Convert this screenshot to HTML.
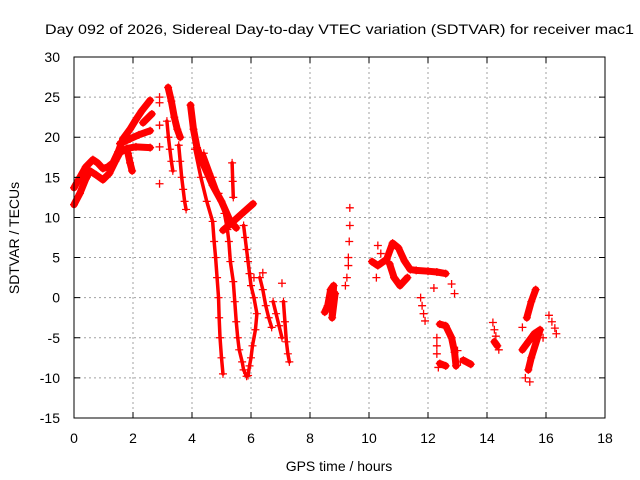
<!DOCTYPE html>
<html><head><meta charset="utf-8">
<style>
body{margin:0;background:#fff;}
svg{display:block;font-family:"Liberation Sans",sans-serif;}
</style></head>
<body>
<svg id="chart" width="640" height="480" viewBox="0 0 640 480">
<rect width="640" height="480" fill="#fff"/>
<g id="grid"></g>
<g id="marks"></g>
<rect x="74" y="57" width="531" height="361" fill="none" stroke="#000" stroke-width="1"/>
<g id="ticks"></g>
<text x="45" y="34" font-size="14" textLength="589" lengthAdjust="spacingAndGlyphs">Day 092 of 2026, Sidereal Day-to-day VTEC variation (SDTVAR) for receiver mac1</text>
<text x="339" y="471" font-size="14" text-anchor="middle">GPS time / hours</text>
<text x="0" y="0" font-size="14" text-anchor="middle" transform="translate(19,238) rotate(-90)">SDTVAR / TECUs</text>
</svg>
<script>
const xTicks=[0,2,4,6,8,10,12,14,16,18];
const yTicks=[-15,-10,-5,0,5,10,15,20,25,30];
const denseTracks=[
[[0,13.7],[0.2,15],[0.4,16.3],[0.64,17.2],[0.8,16.8],[0.98,16.1],[1.15,16.3],[1.32,16.8],[1.5,18.2],[1.66,19.8],[1.9,21],[2.1,22.2],[2.3,23.3],[2.58,24.6]],
[[0,11.6],[0.2,13],[0.4,14.8],[0.54,15.8],[0.75,15.3],[0.98,14.7],[1.2,15.5],[1.4,17],[1.56,18.1],[1.8,18.6],[2.1,18.8],[2.58,18.7]],
[[1.56,19.2],[1.9,19.8],[2.2,20.3],[2.58,20.8]],
[[2.34,21.8],[2.64,22.9]],
[[1.83,18],[1.9,16.8],[1.97,15.8]],
[[3.19,26.2],[3.3,24.5],[3.4,22.5],[3.5,21],[3.6,20]],
[[3.95,24],[4.05,21],[4.17,18.7],[4.4,16.5],[4.7,14],[5.0,12],[5.3,9.5],[5.5,8.7]],
[[5.05,8.4],[5.4,9.5],[5.7,10.5],[6.07,11.7]],
[[8.5,-1.8],[8.6,-1],[8.7,1],[8.8,1.5],[8.75,-2.5],[8.85,0.5]],
[[10.1,4.5],[10.3,4],[10.6,4.8],[10.8,6.8],[11.0,6.2],[11.2,4.6],[11.4,3.5],[11.6,3.4],[12.0,3.3],[12.3,3.2],[12.6,3.0]],
[[10.7,4.2],[10.85,2.5],[11.05,1.5],[11.3,2.5]],
[[12.4,-3.3],[12.6,-3.5],[12.8,-5],[12.9,-6.8],[12.95,-8.5]],
[[12.4,-8.2],[12.6,-8.5]],
[[13.2,-7.8],[13.45,-8.3]],
[[14.25,-5.5],[14.35,-6]],
[[15.35,-2.5],[15.5,-0.5],[15.65,1]],
[[15.2,-6.5],[15.4,-5.5],[15.6,-4.5],[15.8,-4],[15.5,-7.5],[15.4,-9]]
];
const thinTracks=[
[[3.15,22],[3.2,20],[3.25,18.5],[3.3,17],[3.35,15.8]],
[[3.55,19],[3.6,17],[3.65,15],[3.7,13.5],[3.75,12],[3.8,11]],
[[4.1,18.5],[4.3,15],[4.5,12],[4.7,9.5],[4.75,7],[4.8,5],[4.85,2.5],[4.9,0],[4.92,-2.5],[4.95,-5],[5.0,-7.5],[5.05,-9.5]],
[[4.4,18],[4.7,15],[4.9,13],[5.1,10.5],[5.2,8.5],[5.25,7],[5.3,4.5],[5.4,2],[5.45,-0.5],[5.5,-3],[5.55,-5],[5.6,-6.5],[5.7,-8],[5.75,-9],[5.85,-9.8]],
[[5.75,9],[5.8,7.5],[5.85,6],[5.9,4.5],[5.95,3],[6.0,1.5],[6.1,0],[6.2,-2],[6.15,-4],[6.05,-6],[6.0,-7.5],[5.95,-8.5],[5.9,-9.7]],
[[6.3,2.5],[6.4,1],[6.5,-1],[6.6,-2.5],[6.7,-3.7]],
[[6.75,-0.5],[6.85,-2],[6.95,-3.5],[7.05,-5]],
[[7.1,-0.5],[7.15,-3],[7.2,-5.5],[7.25,-7],[7.3,-8]],
[[5.36,16.8],[5.38,14.5],[5.4,12.5]]
];
const sparsePoints=[
[2.9,25],[2.9,24.3],[2.9,21.5],[2.9,18.8],[2.9,14.2],
[7.05,1.8],[6.1,2.5],[6.4,3.1],
[9.35,11.2],[9.35,9],[9.33,7],[9.3,5],[9.3,4],[9.25,2.5],[9.2,1.5],
[10.25,2.5],[10.3,6.5],[10.4,5.5],[11.75,0],[11.8,-1],[11.85,-2],[11.9,-2.9],[12.8,1.7],[12.9,0.5],[12.2,1.2],
[12.3,-5],[12.3,-6],[12.3,-7],[12.35,-8.7],[13.0,-6.6],[13.1,-8],
[14.2,-3.1],[14.25,-4],[14.3,-4.8],[14.4,-6.5],
[15.2,-3.7],[15.3,-10],[15.45,-10.5],[15.9,-5],[16.1,-2.2],[16.2,-3],[16.3,-3.8],[16.35,-4.5]
];
const X0=74,X1=605,Y0=418,Y1=57;
function sx(h){return X0+(h-0)/(18-0)*(X1-X0);}
function sy(v){return Y0-(v-(-15))/(30-(-15))*(Y0-Y1);}
const NS='http://www.w3.org/2000/svg';
const grid=document.getElementById('grid'),ticks=document.getElementById('ticks'),marks=document.getElementById('marks');
function mk(tag,attrs,parent){const e=document.createElementNS(NS,tag);for(const k in attrs)e.setAttribute(k,attrs[k]);parent.appendChild(e);return e;}
xTicks.forEach(t=>{
  const x=sx(t);
  if(t>0&&t<18){const g=mk('line',{x1:x,y1:Y1,x2:x,y2:Y0,stroke:'#a0a0a0','stroke-dasharray':'2,3'},grid);
  
  }
  const tk=mk('path',{d:`M${x},${Y0}v-6M${x},${Y1}v6`,stroke:'#000'},ticks);
  
  
  const l=mk('text',{x:x,y:443,'font-size':14,'text-anchor':'middle'},ticks);
  l.textContent=t;
  
  
});
yTicks.forEach(t=>{
  const y=sy(t);
  if(t>-15&&t<30){const g=mk('line',{x1:X0,y1:y,x2:X1,y2:y,stroke:'#a0a0a0','stroke-dasharray':'2,3'},grid);
  
  }
  const tk=mk('path',{d:`M${X0},${y}h6M${X1},${y}h-6`,stroke:'#000'},ticks);
  
  
  const l=mk('text',{x:60,y:y+5,'font-size':14,'text-anchor':'end'},ticks);
  l.textContent=t;
  
  
});
function plus(h,v){const x=sx(h),y=sy(v);return `M${x-4},${y}h8M${x},${y-4}v8`;}
function drawTrack(tr,w,name){
  const p=mk('polyline',{points:tr.map(d=>sx(d[0])+','+sy(d[1])).join(' '),fill:'none',stroke:'#ff0000','stroke-width':w,'stroke-linejoin':'round','stroke-linecap':'round'},marks);
  
  
  const m=mk('path',{d:tr.map(d=>plus(d[0],d[1])).join(''),stroke:'#ff0000','stroke-width':1.2,fill:'none'},marks);
  
  
}
denseTracks.forEach(tr=>drawTrack(tr,7,'sdtvar-track'));
thinTracks.forEach(tr=>drawTrack(tr,3.5,'sdtvar-thin-track'));
const sp=mk('path',{d:sparsePoints.map(d=>plus(d[0],d[1])).join(''),stroke:'#ff0000','stroke-width':1.3,fill:'none'},marks);


</script>
</body></html>
